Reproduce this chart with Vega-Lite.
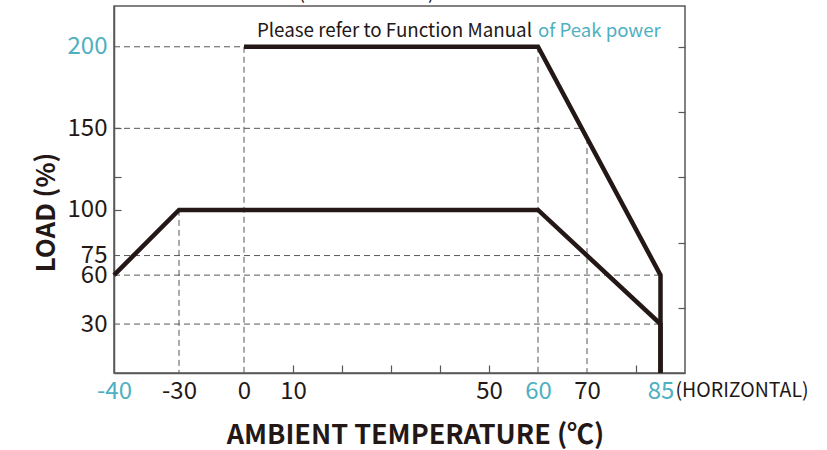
{
  "$schema": "https://vega.github.io/schema/vega-lite/v6.json",
  "width": 571,
  "height": 367,
  "autosize": "none",
  "padding": {"left": 114, "top": 6, "right": 142, "bottom": 77},
  "background": "white",
  "config": {
    "view": {"stroke": "#595757", "strokeWidth": 1.5},
    "font": "Noto Sans CJK JP"
  },
  "datasets": {
    "guides": [
      {"temp": -40, "temp2": 0, "load": 200, "load2": 200},
      {"temp": -40, "temp2": 68.9, "load": 150, "load2": 150},
      {"temp": -40, "temp2": 70, "load": 72, "load2": 72},
      {"temp": -40, "temp2": 85, "load": 60, "load2": 60},
      {"temp": -40, "temp2": 85, "load": 30, "load2": 30},
      {"temp": -30, "temp2": -30, "load": 100, "load2": 0},
      {"temp": 0, "temp2": 0, "load": 200, "load2": 0},
      {"temp": 60, "temp2": 60, "load": 200, "load2": 0},
      {"temp": 70, "temp2": 70, "load": 144, "load2": 0}
    ],
    "curves": [
      {"series": "standard", "order": 1, "temp": -40, "load": 60},
      {"series": "standard", "order": 2, "temp": -30, "load": 100},
      {"series": "standard", "order": 3, "temp": 60, "load": 100},
      {"series": "standard", "order": 4, "temp": 85, "load": 30},
      {"series": "standard", "order": 5, "temp": 85, "load": 0},
      {"series": "peak", "order": 1, "temp": 0, "load": 200},
      {"series": "peak", "order": 2, "temp": 60, "load": 200},
      {"series": "peak", "order": 3, "temp": 85, "load": 60},
      {"series": "peak", "order": 4, "temp": 85, "load": 0}
    ],
    "noteDark": [{"temp": 60, "load": 206.3, "text": "Please refer to Function Manual"}],
    "noteTeal": [{"temp": 60, "load": 206.3, "text": "of Peak power"}],
    "horiz": [{"temp": 85, "load": 0, "text": "(HORIZONTAL)"}],
    "topClip": [{"temp": 25, "load": 229, "text": "(HORIZONTAL)"}]
  },
  "resolve": {"axis": {"y": "independent"}},
  "layer": [
    {
      "data": {"name": "guides"},
      "mark": {"type": "rule", "strokeDash": [6, 4], "strokeWidth": 1, "color": "#595757"},
      "encoding": {
        "x": {
          "field": "temp", "type": "quantitative",
          "scale": {"domain": [-40, -30, 0, 90], "range": [0, 65, 130, 571], "nice": false, "zero": false},
          "axis": {
            "title": "AMBIENT TEMPERATURE (℃)",
            "titleFontSize": 27, "titleFontWeight": "bold", "titleColor": "#231815",
            "titleX": 301, "titleY": 70, "titleBaseline": "alphabetic", "titleAlign": "center",
            "values": [-40, -30, 0, 10, 20, 30, 40, 50, 60, 70, 80, 85],
            "labelExpr": "indexof([20,30,40,80], datum.value) >= 0 ? '' : toString(datum.value)",
            "labelFontSize": 24,
            "labelColor": {"condition": {"test": "datum.value == -40 || datum.value == 60 || datum.value == 85", "value": "#4fb0c1"}, "value": "#231815"},
            "labelPadding": 14, "labelFlush": false, "labelOverlap": false, "labelBound": false,
            "tickSize": -8, "tickColor": "#595757", "tickWidth": 1.2,
            "tickOpacity": {"condition": {"test": "indexof([10,20,30,40,50,80], datum.value) >= 0", "value": 1}, "value": 0},
            "domainColor": "#595757", "domainWidth": 1.5,
            "grid": false
          }
        },
        "x2": {"field": "temp2"},
        "y": {
          "field": "load", "type": "quantitative",
          "scale": {"domain": [0, 225], "nice": false, "zero": false},
          "axis": {
            "title": "LOAD (%)",
            "titleFontSize": 26, "titleFontWeight": "bold", "titleColor": "#231815",
            "titleX": -60, "titleY": 206, "titleAngle": 270, "titleBaseline": "alphabetic", "titleAlign": "center",
            "values": [30, 60, 72, 100, 120, 150, 200],
            "labelExpr": "datum.value == 72 ? '75' : datum.value == 120 ? '' : toString(datum.value)",
            "labelFontSize": 24,
            "labelColor": {"condition": {"test": "datum.value == 200", "value": "#4fb0c1"}, "value": "#231815"},
            "labelPadding": 14, "labelFlush": false, "labelOverlap": false, "labelBound": false,
            "tickSize": -7, "tickColor": "#595757", "tickWidth": 1.2,
            "tickOpacity": {"condition": {"test": "datum.value == 100 || datum.value == 120 || datum.value == 150", "value": 1}, "value": 0},
            "domainColor": "#595757", "domainWidth": 1.5,
            "grid": false
          }
        },
        "y2": {"field": "load2"}
      }
    },
    {
      "data": {"name": "curves"},
      "mark": {"type": "line", "strokeWidth": 4.5, "color": "#231815", "strokeJoin": "miter", "strokeCap": "butt"},
      "encoding": {
        "x": {"field": "temp", "type": "quantitative"},
        "y": {
          "field": "load", "type": "quantitative",
          "axis": {
            "orient": "right", "title": null, "labels": false, "domain": false, "grid": false,
            "values": [40, 80, 120, 160, 200],
            "tickSize": -7, "tickColor": "#595757", "tickWidth": 1.2
          }
        },
        "detail": {"field": "series"},
        "order": {"field": "order"}
      }
    },
    {
      "data": {"name": "noteDark"},
      "mark": {"type": "text", "align": "right", "baseline": "alphabetic", "dx": -6, "fontSize": 18.8, "color": "#231815"},
      "encoding": {
        "x": {"field": "temp", "type": "quantitative"},
        "y": {"field": "load", "type": "quantitative", "axis": null},
        "text": {"field": "text"}
      }
    },
    {
      "data": {"name": "noteTeal"},
      "mark": {"type": "text", "align": "left", "baseline": "alphabetic", "fontSize": 18.6, "color": "#4fb0c1"},
      "encoding": {
        "x": {"field": "temp", "type": "quantitative"},
        "y": {"field": "load", "type": "quantitative", "axis": null},
        "text": {"field": "text"}
      }
    },
    {
      "data": {"name": "horiz"},
      "mark": {"type": "text", "align": "left", "baseline": "alphabetic", "dx": 15, "dy": 24, "fontSize": 19.5, "color": "#231815"},
      "encoding": {
        "x": {"field": "temp", "type": "quantitative"},
        "y": {"field": "load", "type": "quantitative", "axis": null},
        "text": {"field": "text"}
      }
    },
    {
      "data": {"name": "topClip"},
      "mark": {"type": "text", "align": "center", "baseline": "alphabetic", "fontSize": 20, "color": "#231815"},
      "encoding": {
        "x": {"field": "temp", "type": "quantitative"},
        "y": {"field": "load", "type": "quantitative", "axis": null},
        "text": {"field": "text"}
      }
    }
  ]
}
